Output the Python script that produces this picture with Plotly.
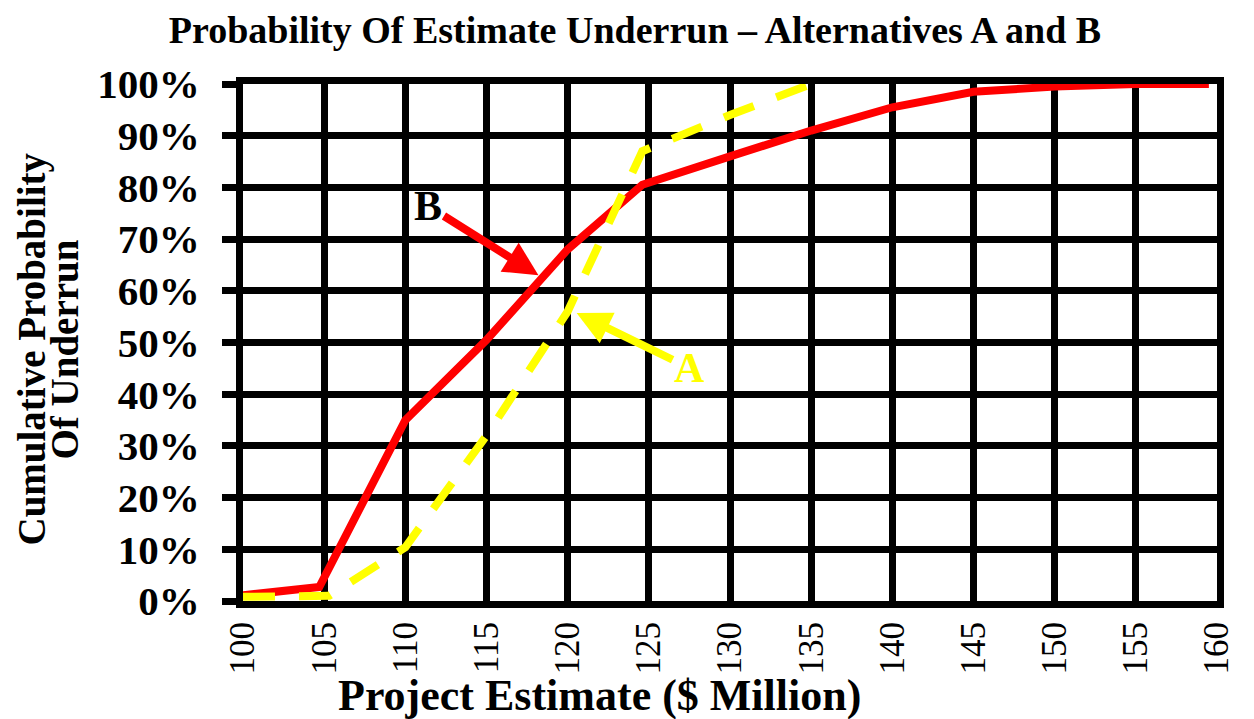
import plotly.graph_objects as go

# Cumulative probability curves (project estimate in $ million, probability as fraction)
alt_b_x = [99.7, 104.7, 110, 115, 120, 124.6, 130, 135, 140, 145, 150, 155, 159.5]
alt_b_y = [0.010, 0.027, 0.35, 0.505, 0.68, 0.805, 0.86, 0.91, 0.955, 0.985, 0.995, 1.0, 1.0]

alt_a_x = [100, 105.3, 110, 115, 120, 124.6, 130, 135]
alt_a_y = [0.008, 0.010, 0.104, 0.32, 0.56, 0.87, 0.94, 1.0]

x_ticks = [100, 105, 110, 115, 120, 125, 130, 135, 140, 145, 150, 155, 160]
y_ticks = [0, 0.1, 0.2, 0.3, 0.4, 0.5, 0.6, 0.7, 0.8, 0.9, 1.0]

SERIF = "Liberation Serif, Times New Roman, serif"
L, R, T, B = 243, 37, 84, 118
W, H = 1254, 719
plot_w = W - L - R

fig = go.Figure()

fig.add_trace(go.Scatter(
    x=alt_b_x, y=alt_b_y, mode="lines",
    line=dict(color="#FF0000", width=8),
    cliponaxis=False, showlegend=False, hoverinfo="skip",
))
fig.add_trace(go.Scatter(
    x=alt_a_x, y=alt_a_y, mode="lines",
    line=dict(color="#FFFF00", width=8, dash="32px,24px"),
    cliponaxis=False, showlegend=False, hoverinfo="skip",
))

# Callout labels with arrows pointing at each curve
fig.add_annotation(
    x=118.2, y=0.630, xref="x", yref="y",
    ax=-110, ay=-69, text="<b>B</b>",
    font=dict(family=SERIF, size=42, color="black"),
    showarrow=True, arrowhead=2, arrowsize=0.85, arrowwidth=8,
    arrowcolor="#FF0000", standoff=0,
)
fig.add_annotation(
    x=120.55, y=0.557, xref="x", yref="y",
    ax=113, ay=55, text="<b>A</b>",
    font=dict(family=SERIF, size=42, color="#FFFF00"),
    showarrow=True, arrowhead=2, arrowsize=0.85, arrowwidth=8,
    arrowcolor="#FFFF00", standoff=0,
)

# Two-line vertical axis title with tight line spacing
for text, xpx in [("<b>Cumulative Probability</b>", 31), ("<b>Of Underrun</b>", 64)]:
    fig.add_annotation(
        x=0, y=0.5, xref="paper", yref="paper",
        xanchor="center", yanchor="middle",
        xshift=xpx - L, yshift=-7,
        text=text, textangle=-90, showarrow=False,
        font=dict(family=SERIF, size=39, color="black"),
    )

# Horizontal axis title
fig.add_annotation(
    x=(599 - L) / plot_w, y=0, xref="paper", yref="paper",
    xanchor="center", yanchor="middle", yshift=-(695 - (H - B)),
    text="<b>Project Estimate ($ Million)</b>", showarrow=False,
    font=dict(family=SERIF, size=44, color="black"),
)

fig.update_layout(
    width=W, height=H,
    paper_bgcolor="white", plot_bgcolor="white",
    margin=dict(l=L, r=R, t=T, b=B),
    title=dict(
        text="<b>Probability Of Estimate Underrun – Alternatives A and B</b>",
        x=635 / W, xref="container", xanchor="center", y=0.958, yanchor="middle",
        font=dict(family=SERIF, size=38, color="black"),
    ),
    xaxis=dict(
        range=[100, 160], tickvals=x_ticks, ticktext=[str(v) for v in x_ticks],
        tickangle=-90, ticks="", ticklen=0, automargin=False,
        tickfont=dict(family=SERIF, size=35, color="black"),
        showgrid=True, gridcolor="black", gridwidth=7,
        showline=True, linecolor="black", linewidth=7, mirror=True,
        zeroline=False,
    ),
    yaxis=dict(
        range=[0, 1], tickvals=y_ticks, automargin=False,
        ticktext=[f"<b>{int(round(v * 100))}%</b>" for v in y_ticks],
        ticks="outside", ticklen=14, tickwidth=7, tickcolor="black",
        ticklabelstandoff=14,
        tickfont=dict(family=SERIF, size=41, color="black"),
        showgrid=True, gridcolor="black", gridwidth=7,
        showline=True, linecolor="black", linewidth=7, mirror=True,
        zeroline=False,
    ),
)

fig.write_html("out.html")
